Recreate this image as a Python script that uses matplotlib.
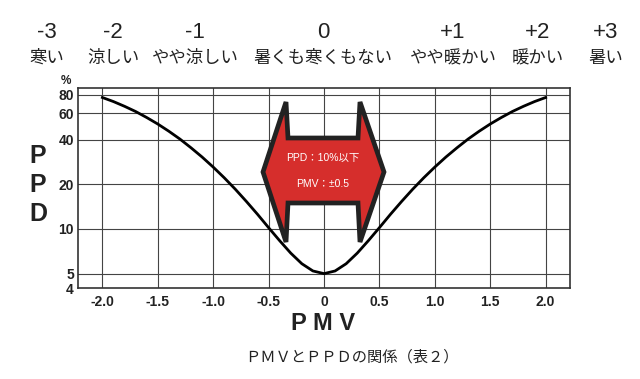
import matplotlib
matplotlib.use('Agg')
import matplotlib.pyplot as plt
from matplotlib.patches import Polygon

# curve values
pmv = [-2.0, -1.9, -1.8, -1.7, -1.6, -1.5, -1.4, -1.3, -1.2, -1.1, -1.0,
       -0.9, -0.8, -0.7, -0.6, -0.5, -0.4, -0.3, -0.2, -0.1, 0.0,
       0.1, 0.2, 0.3, 0.4, 0.5, 0.6, 0.7, 0.8, 0.9, 1.0,
       1.1, 1.2, 1.3, 1.4, 1.5, 1.6, 1.7, 1.8, 1.9, 2.0]
ppd = [76.8, 72.1, 67.0, 61.8, 56.3, 50.9, 45.5, 40.3, 35.2, 30.5, 26.1,
       22.1, 18.5, 15.3, 12.55, 10.2, 8.33, 6.87, 5.83, 5.21, 5.0,
       5.21, 5.83, 6.87, 8.33, 10.2, 12.55, 15.3, 18.5, 22.1, 26.1,
       30.5, 35.2, 40.3, 45.5, 50.9, 56.3, 61.8, 67.0, 72.1, 76.8]

x_ticks = [-2.0, -1.5, -1.0, -0.5, 0, 0.5, 1.0, 1.5, 2.0]
x_labels = ['-2.0', '-1.5', '-1.0', '-0.5', '0', '0.5', '1.0', '1.5', '2.0']
y_ticks = [4, 5, 10, 20, 40, 60, 80]
y_grid = [5, 10, 20, 40, 60, 80]

scale_nums = ['-3', '-2', '-1', '0', '+1', '+2', '+3']
scale_words = ['寒い', '涼しい', 'やや涼しい', '暑くも寒くもない', 'やや暖かい', '暖かい', '暑い']
scale_px = [47, 113, 195, 323, 453, 538, 606]

plt.rcParams['font.family'] = ['Liberation Sans', 'Noto Sans CJK JP', 'DejaVu Sans']
jp = ['Noto Sans CJK JP', 'DejaVu Sans']
mixed = ['Liberation Sans', 'Noto Sans CJK JP', 'DejaVu Sans']

W, H = 640, 379
fig = plt.figure(figsize=(6.4, 3.79), dpi=100)
ax = fig.add_axes([78 / W, 1 - 288 / H, (570 - 78) / W, (288 - 88) / H])

ax.set_yscale('log')
ax.set_xlim(-2.22, 2.22)
ax.set_ylim(4.03, 89)
for y in y_grid:
    ax.axhline(y, color='#444444', lw=0.8, zorder=1)
for x in x_ticks:
    ax.axvline(x, color='#444444', lw=0.8, zorder=1)
ax.plot(pmv, ppd, color='black', lw=2, zorder=3)

ax.set_xticks(x_ticks)
ax.set_xticklabels(x_labels, fontsize=10, fontweight='bold', color='#222222')
ax.set_yticks(y_ticks)
ax.set_yticklabels([str(v) for v in y_ticks], fontsize=10, fontweight='bold', color='#222222')
ax.yaxis.set_minor_locator(matplotlib.ticker.NullLocator())
ax.tick_params(length=0, pad=5)
ax.tick_params(axis='y', pad=3)
for s in ax.spines.values():
    s.set_color('#333333')
    s.set_linewidth(1.2)

def fx(px):
    return px / W

def fy(py):
    return 1 - py / H

# scale labels above the chart
for n, w, px in zip(scale_nums, scale_words, scale_px):
    fig.text(fx(px), fy(33), n, fontsize=16, ha='center', va='center', color='#222222')
    fig.text(fx(px), fy(58), w, fontsize=12.5, ha='center', va='center', color='#222222', family=jp)

fig.text(fx(66), fy(81), '%', fontsize=8.5, fontweight='bold', ha='center', va='center', color='#222222')
for ch, py in zip('PPD', [156, 185, 214]):
    fig.text(fx(38), fy(py), ch, fontsize=18, fontweight='bold', ha='center', va='center', color='#222222')
fig.text(fx(323), fy(324), 'P M V', fontsize=17, fontweight='bold', ha='center', va='center', color='#222222')
fig.text(fx(352), fy(357), 'ＰＭＶとＰＰＤの関係（表２）', fontsize=11, ha='center', va='center',
         color='#222222', family=jp)

# double arrow
arrow_px = [(263, 172), (286, 102), (288, 138), (358, 138), (360, 102), (384, 172),
            (360, 242), (358, 203), (288, 203), (286, 242)]
arrow = Polygon([(fx(a), fy(b)) for a, b in arrow_px], closed=True, transform=fig.transFigure,
                facecolor='#d62e2c', edgecolor='#222222', lw=3.4, joinstyle='miter', zorder=5)
fig.add_artist(arrow)
fig.text(fx(323), fy(158), 'PPD：10%以下', fontsize=7.5, color='white', ha='center', va='center',
         family=mixed, zorder=6)
fig.text(fx(323), fy(184), 'PMV：±0.5', fontsize=7.5, color='white', ha='center', va='center',
         family=mixed, zorder=6)

fig.savefig('out.png', dpi=100)
